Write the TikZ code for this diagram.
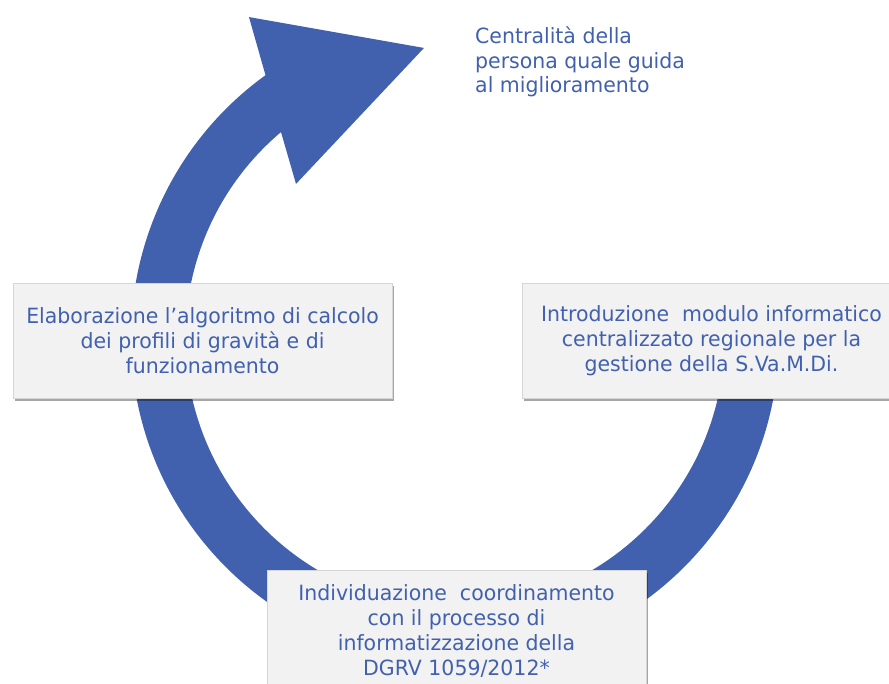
\documentclass[tikz,border=0pt]{standalone}
\usepackage{fontspec}
\newfontfamily\cyclefont[FakeStretch=0.975]{DejaVu Sans}
\usetikzlibrary{calc, shadows}

\definecolor{cycleblue}{RGB}{65,97,174}
\definecolor{boxfill}{RGB}{242,242,242}
\definecolor{boxline}{RGB}{214,214,214}

\begin{document}
\begin{tikzpicture}[x=1pt, y=1pt,
        stepbox/.style={draw=boxline, fill=boxfill, text=cycleblue, align=center,
            minimum width=379pt, minimum height=115pt, inner sep=0pt,
            font=\cyclefont\fontsize{21}{25}\selectfont,
            drop shadow={shadow xshift=1.5pt, shadow yshift=-3pt, fill=black, opacity=.35}},
        lbl/.style={text=cycleblue, align=left, inner sep=0pt,
            font=\cyclefont\fontsize{21}{24.5}\selectfont}
    ]
        \useasboundingbox (0,0) rectangle (889,684);
        \clip (0,0) rectangle (889,684);

        \coordinate (ctr) at (455,346);

        % circular arrow
        \fill[cycleblue] ($(ctr)+(0:324pt)$) arc[start angle=0, end angle=-234.2, radius=324pt]
            -- ($(ctr)+(122.7:381.4pt)$) -- ($(ctr)+(96.1:291.7pt)$)
            -- ($(ctr)+(135.9:221.4pt)$) -- ($(ctr)+(130.2:269.6pt)$)
            arc[start angle=-229.8, end angle=0, radius=269.6pt] -- cycle;

        \node[stepbox] (algo) at (202.5,343.5) {Elaborazione l’algoritmo di calcolo\\dei profili di gravità e di\\funzionamento};
        \node[stepbox] (modulo) at (711.5,343.5) {Introduzione\ \ modulo informatico\\centralizzato regionale per la\\gestione della S.Va.M.Di.};
        \node[stepbox, minimum height=122pt] (dgrv) at (456.5,53) {Individuazione\ \ coordinamento\\con il processo di\\informatizzazione della\\DGRV 1059/2012*};

        \node[lbl, anchor=north west] (centr) at (475,657) {Centralità della\\persona quale guida\\al miglioramento};
    \end{tikzpicture}
\end{document}
